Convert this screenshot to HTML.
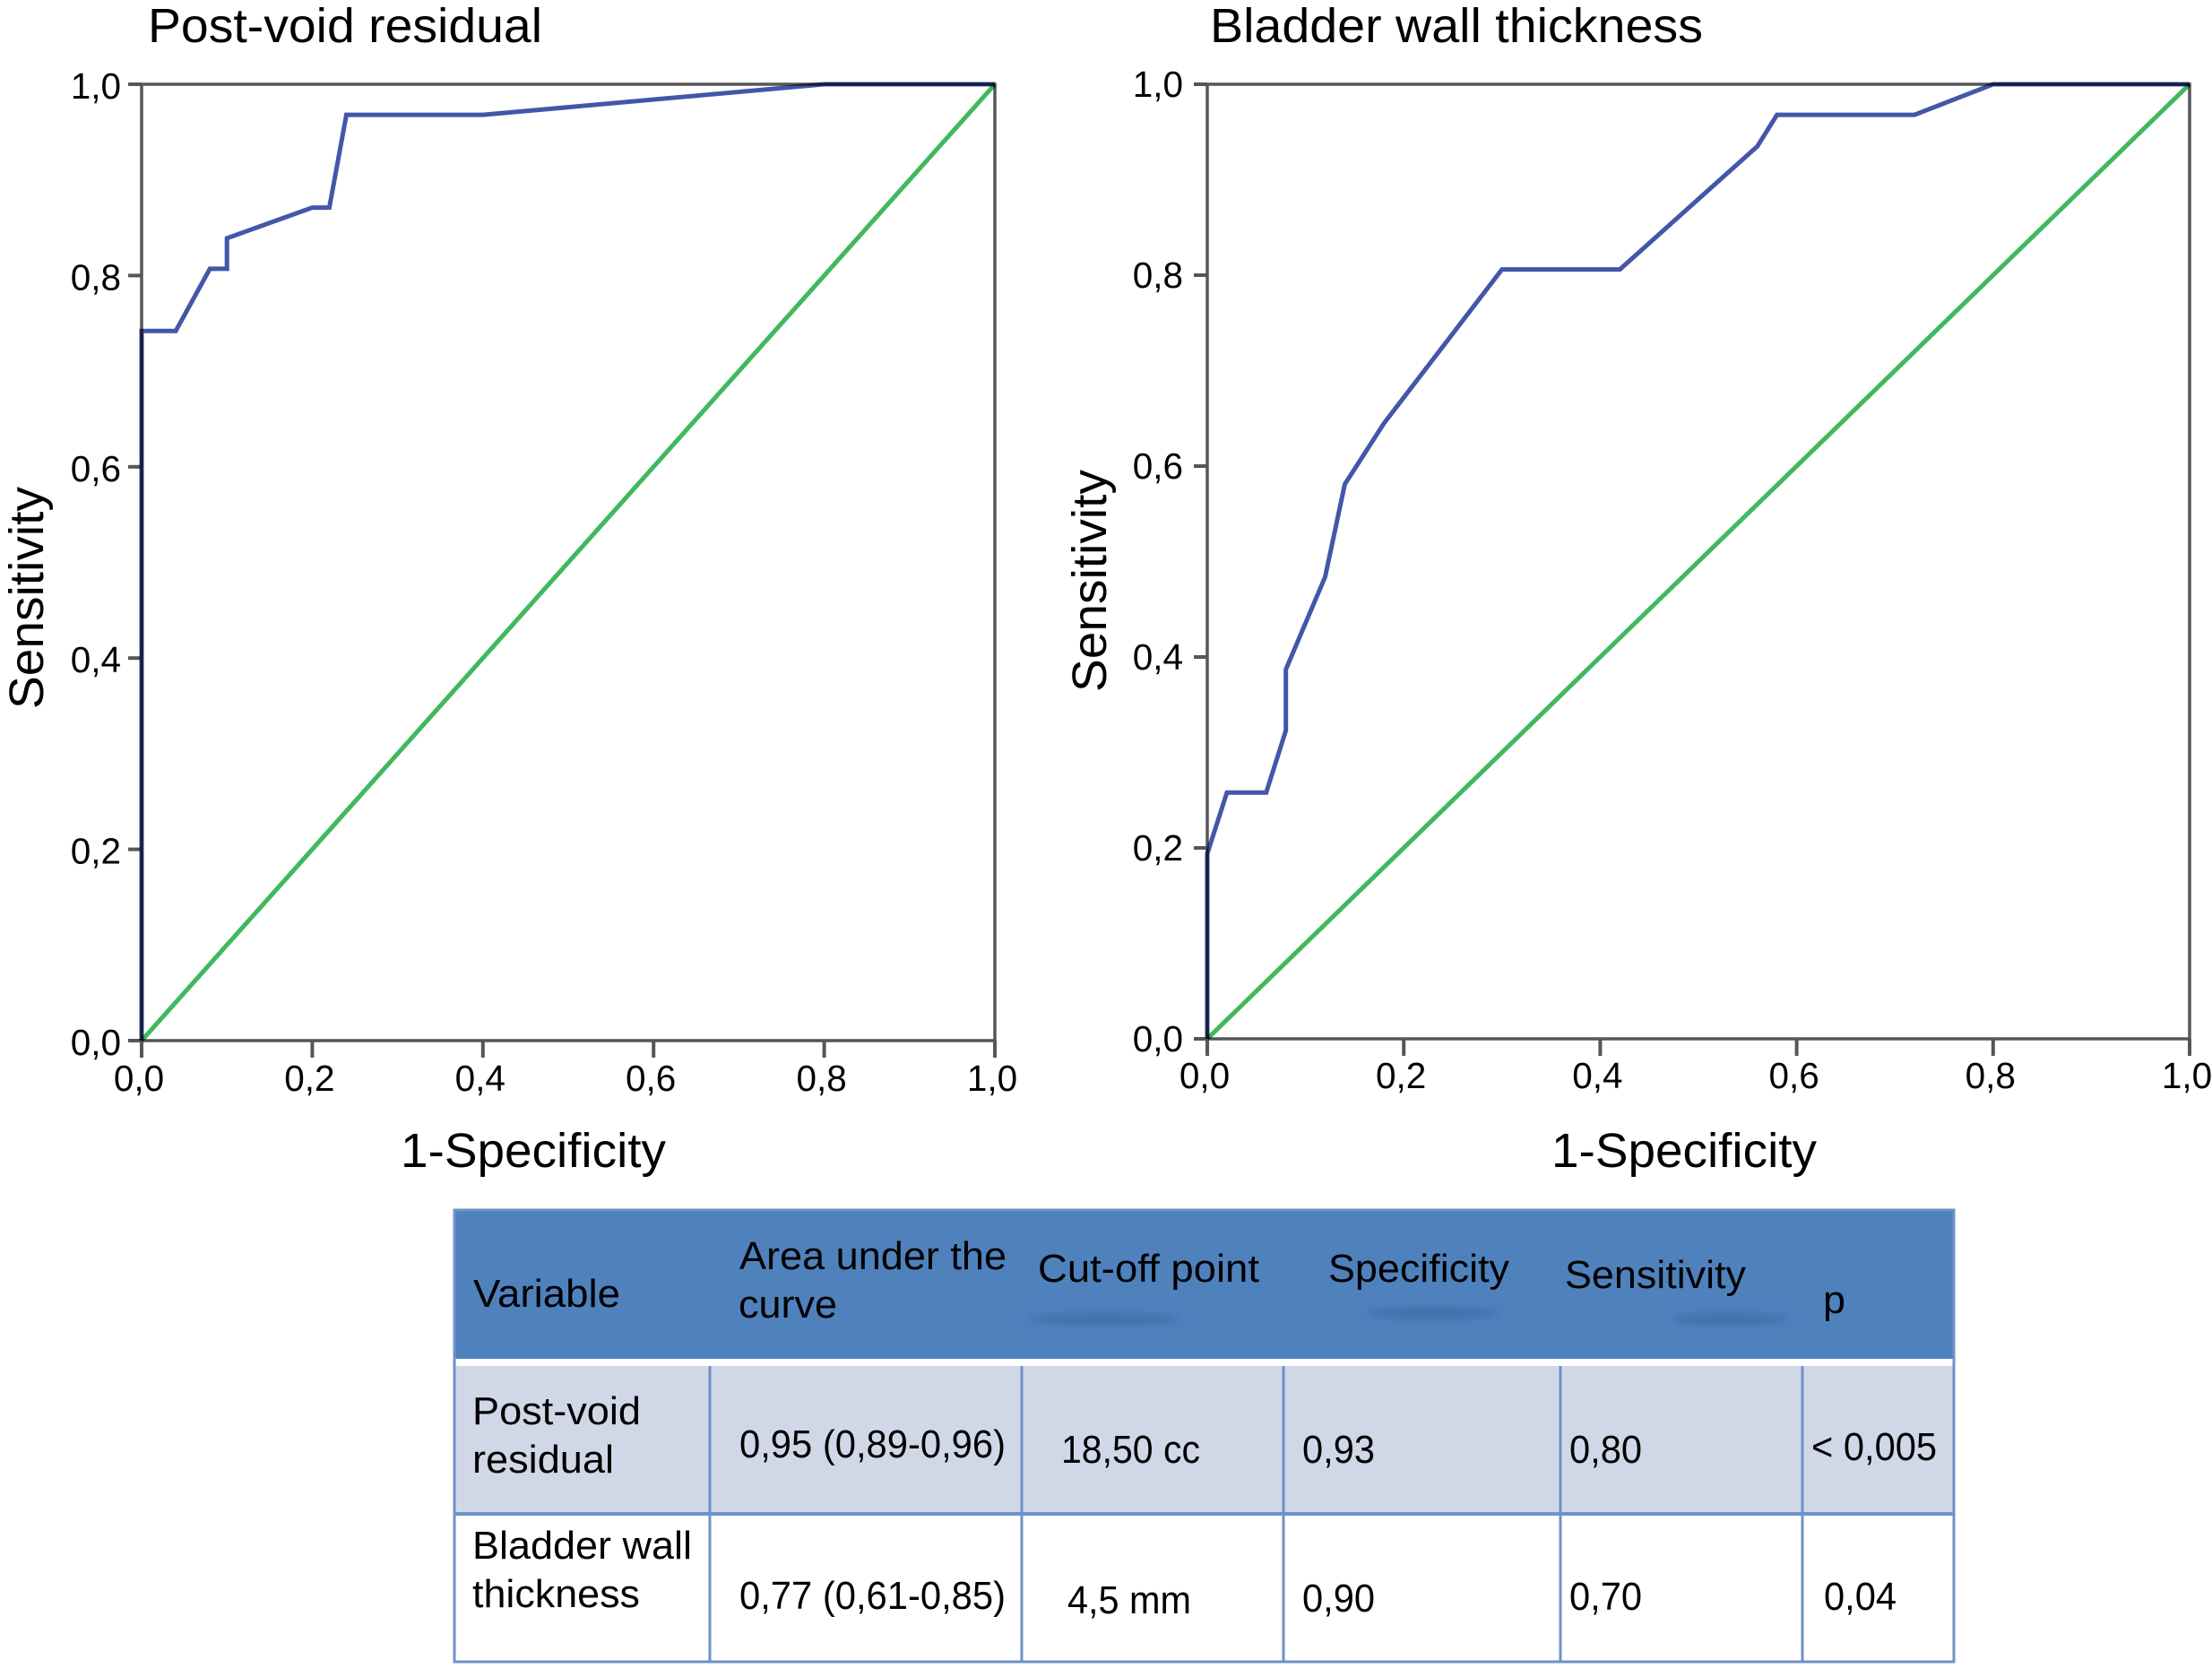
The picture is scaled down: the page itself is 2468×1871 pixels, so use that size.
<!DOCTYPE html>
<html lang="en">
<head>
<meta charset="utf-8">
<title>ROC curves: post-void residual and bladder wall thickness</title>
<style>
html,body{margin:0;padding:0;background:#fff;width:2468px;height:1871px;overflow:hidden}
svg{display:block}
text{font-family:"Liberation Sans",Arial,sans-serif;fill:#000}
.ttl{font-size:54px}
.hd,.cell{font-size:44px}
.grid{stroke:#6f92c6;stroke-width:3;fill:none}
.smudge{fill:#4272ad;filter:url(#soft)}
</style>
</head>
<body>
<svg id="fig" xmlns="http://www.w3.org/2000/svg" width="2468" height="1871" viewBox="0 0 2468 1871">
  <defs>
    <filter id="soft" x="-20%" y="-100%" width="140%" height="300%"><feGaussianBlur stdDeviation="4"/></filter>
  </defs>
  <rect x="0" y="0" width="2468" height="1871" fill="#ffffff"/>

  <g id="plot-left"></g>
  <g id="plot-right"></g>

  <text class="ttl" x="165" y="47" textLength="440" lengthAdjust="spacingAndGlyphs">Post-void residual</text>
  <text class="ttl" x="1350" y="47" textLength="550" lengthAdjust="spacingAndGlyphs">Bladder wall thickness</text>
  <text class="ttl" x="447" y="1302" textLength="296" lengthAdjust="spacingAndGlyphs">1-Specificity</text>
  <text class="ttl" x="1731" y="1302" textLength="296" lengthAdjust="spacingAndGlyphs">1-Specificity</text>
  <text class="ttl" transform="translate(48 791) rotate(-90)" textLength="248" lengthAdjust="spacingAndGlyphs">Sensitivity</text>
  <text class="ttl" transform="translate(1234 772) rotate(-90)" textLength="248" lengthAdjust="spacingAndGlyphs">Sensitivity</text>

  <g>
    <rect x="507" y="1350" width="1673" height="166" fill="#4f81bd"/>
    <ellipse class="smudge" cx="1232" cy="1472" rx="85" ry="7"/>
    <ellipse class="smudge" cx="1598" cy="1465" rx="75" ry="7"/>
    <ellipse class="smudge" cx="1930" cy="1472" rx="65" ry="7"/>
    <rect x="507" y="1524" width="1673" height="165" fill="#d0d8e8"/>
    <rect class="grid" x="507" y="1350" width="1673" height="504"/>
    <line class="grid" x1="507" y1="1689" x2="2180" y2="1689" style="stroke-width:4"/>
    <line class="grid" x1="792" y1="1524" x2="792" y2="1854"/>
    <line class="grid" x1="1140" y1="1524" x2="1140" y2="1854"/>
    <line class="grid" x1="1432" y1="1524" x2="1432" y2="1854"/>
    <line class="grid" x1="1741" y1="1524" x2="1741" y2="1854"/>
    <line class="grid" x1="2011" y1="1524" x2="2011" y2="1854"/>

    <text class="hd" x="528" y="1458" textLength="164" lengthAdjust="spacingAndGlyphs">Variable</text>
    <text class="hd" x="825" y="1416" textLength="298" lengthAdjust="spacingAndGlyphs">Area under the</text>
    <text class="hd" x="824" y="1470" textLength="110" lengthAdjust="spacingAndGlyphs">curve</text>
    <text class="hd" x="1158" y="1430" textLength="247" lengthAdjust="spacingAndGlyphs">Cut-off point</text>
    <text class="hd" x="1482" y="1430" textLength="202" lengthAdjust="spacingAndGlyphs">Specificity</text>
    <text class="hd" x="1746" y="1437" textLength="202" lengthAdjust="spacingAndGlyphs">Sensitivity</text>
    <text class="hd" x="2034" y="1465" textLength="25" lengthAdjust="spacingAndGlyphs">p</text>

    <text class="cell" x="527" y="1589" textLength="188" lengthAdjust="spacingAndGlyphs">Post-void</text>
    <text class="cell" x="527" y="1643" textLength="158" lengthAdjust="spacingAndGlyphs">residual</text>
    <text class="cell" x="825" y="1626" textLength="297" lengthAdjust="spacingAndGlyphs">0,95 (0,89-0,96)</text>
    <text class="cell" x="1184" y="1632" textLength="155" lengthAdjust="spacingAndGlyphs">18,50 cc</text>
    <text class="cell" x="1453" y="1632" textLength="81" lengthAdjust="spacingAndGlyphs">0,93</text>
    <text class="cell" x="1751" y="1632" textLength="81" lengthAdjust="spacingAndGlyphs">0,80</text>
    <text class="cell" x="2021" y="1629" textLength="140" lengthAdjust="spacingAndGlyphs">&lt; 0,005</text>

    <text class="cell" x="527" y="1739" textLength="245" lengthAdjust="spacingAndGlyphs">Bladder wall</text>
    <text class="cell" x="527" y="1793" textLength="187" lengthAdjust="spacingAndGlyphs">thickness</text>
    <text class="cell" x="825" y="1795" textLength="297" lengthAdjust="spacingAndGlyphs">0,77 (0,61-0,85)</text>
    <text class="cell" x="1191" y="1800" textLength="138" lengthAdjust="spacingAndGlyphs">4,5 mm</text>
    <text class="cell" x="1453" y="1798" textLength="81" lengthAdjust="spacingAndGlyphs">0,90</text>
    <text class="cell" x="1751" y="1796" textLength="81" lengthAdjust="spacingAndGlyphs">0,70</text>
    <text class="cell" x="2035" y="1796" textLength="81" lengthAdjust="spacingAndGlyphs">0,04</text>
  </g>
</svg>
<script>
const axisTicks = [0, 0.2, 0.4, 0.6, 0.8, 1];
const axisTickLabels = ['0,0', '0,2', '0,4', '0,6', '0,8', '1,0'];
const referenceFpr = [0, 1];
const referenceTpr = [0, 1];
const pvrFpr = [0, 0, 0.04, 0.08, 0.1, 0.1, 0.2, 0.22, 0.24, 0.4, 0.8, 1];
const pvrTpr = [0, 0.742, 0.742, 0.807, 0.807, 0.839, 0.871, 0.871, 0.968, 0.968, 1, 1];
const bwtFpr = [0, 0, 0.02, 0.06, 0.08, 0.08, 0.12, 0.14, 0.18, 0.3, 0.42, 0.56, 0.58, 0.72, 0.8, 1];
const bwtTpr = [0, 0.194, 0.258, 0.258, 0.323, 0.387, 0.484, 0.581, 0.645, 0.806, 0.806, 0.935, 0.968, 0.968, 1, 1];

const NS = 'http://www.w3.org/2000/svg';

function makeLine(parent, x1, y1, x2, y2, width) {
  const el = document.createElementNS(NS, 'line');
  el.setAttribute('x1', x1);
  el.setAttribute('y1', y1);
  el.setAttribute('x2', x2);
  el.setAttribute('y2', y2);
  el.setAttribute('stroke', '#565656');
  el.setAttribute('stroke-width', width);
  parent.appendChild(el);
  return el;
}

function makeLabel(parent, x, y, str, anchor) {
  const el = document.createElementNS(NS, 'text');
  el.setAttribute('x', x);
  el.setAttribute('y', y);
  el.setAttribute('font-size', '40.5');
  el.setAttribute('text-anchor', anchor);
  el.textContent = str;
  parent.appendChild(el);
  return el;
}

function makeSeries(parent, xs, ys, sx, sy, color) {
  const el = document.createElementNS(NS, 'polyline');
  el.setAttribute('points', xs.map(function (v, i) { return sx(v) + ',' + sy(ys[i]); }).join(' '));
  el.setAttribute('fill', 'none');
  el.setAttribute('stroke', color);
  el.setAttribute('stroke-width', '5');
  el.setAttribute('stroke-linejoin', 'miter');
  el.style.mixBlendMode = 'multiply';
  parent.appendChild(el);
  return el;
}

function drawPlot(opts) {
  const root = document.getElementById(opts.id);
  const sx = function (v) { return opts.x0 + (opts.x1 - opts.x0) * v; };
  const sy = function (v) { return opts.y0 + (opts.y1 - opts.y0) * v; };

  const frame = document.createElementNS(NS, 'rect');
  frame.setAttribute('x', sx(0));
  frame.setAttribute('y', sy(1));
  frame.setAttribute('width', sx(1) - sx(0));
  frame.setAttribute('height', sy(0) - sy(1));
  frame.setAttribute('fill', 'none');
  frame.setAttribute('stroke', '#565656');
  frame.setAttribute('stroke-width', '3.5');
  
  
  root.appendChild(frame);

  axisTicks.forEach(function (t, i) {
    const xTick = makeLine(root, sx(t), sy(0), sx(t), sy(0) + 19, 4);
    
    
    const yTick = makeLine(root, sx(0) - 15, sy(t), sx(0), sy(t), 4);
    
    
    const xLab = makeLabel(root, sx(t) + opts.xLabelDx, opts.xLabelY, axisTickLabels[i], 'middle');
    
    
    const yLab = makeLabel(root, opts.yLabelX, sy(t) + opts.yLabelDy, axisTickLabels[i], 'end');
    
    
  });

  const ref = makeSeries(root, referenceFpr, referenceTpr, sx, sy, '#3fb95c');
  
  
  const roc = makeSeries(root, opts.fpr, opts.tpr, sx, sy, '#4356a8');
  
  
}

drawPlot({ id: 'plot-left', x0: 158, x1: 1110, y0: 1161, y1: 94, xLabelY: 1217, xLabelDx: -3, yLabelX: 135, yLabelDy: 16, fpr: pvrFpr, tpr: pvrTpr });
drawPlot({ id: 'plot-right', x0: 1347, x1: 2443, y0: 1159, y1: 94, xLabelY: 1214, xLabelDx: -3, yLabelX: 1320, yLabelDy: 14, fpr: bwtFpr, tpr: bwtTpr });
</script>
</body>
</html>
